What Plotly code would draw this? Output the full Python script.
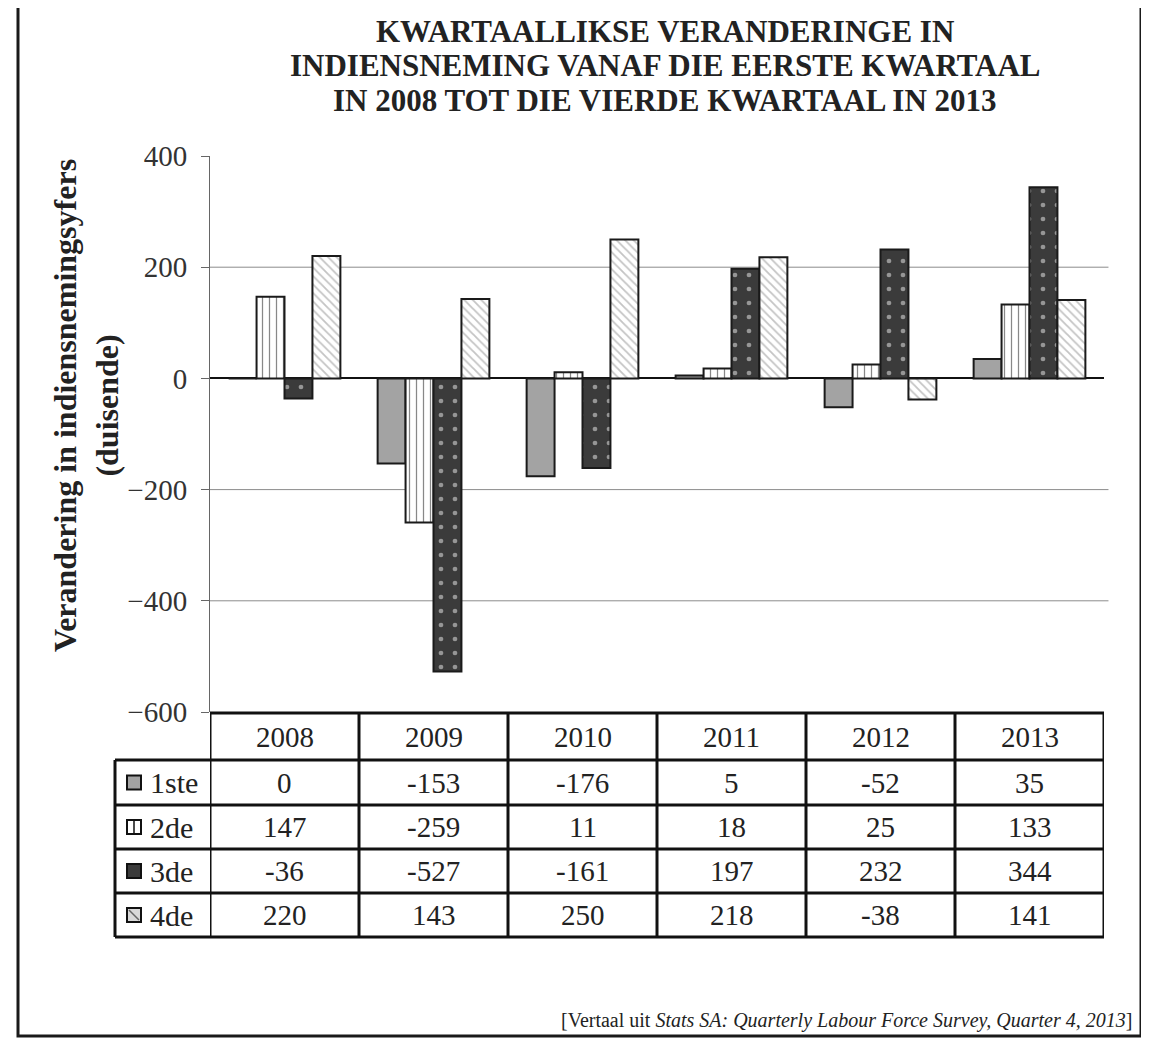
import plotly.graph_objects as go

# ---- data ----
years = ["2008", "2009", "2010", "2011", "2012", "2013"]
quarters = ["1ste", "2de", "3de", "4de"]
q1 = [0, -153, -176, 5, -52, 35]
q2 = [147, -259, 11, 18, 25, 133]
q3 = [-36, -527, -161, 197, 232, 344]
q4 = [220, 143, 250, 218, -38, 141]
series = [q1, q2, q3, q4]
y_ticks = [-600, -400, -200, 0, 200, 400]
grid_vals = [-400, -200, 200]

title_lines = ["KWARTAALLIKSE VERANDERINGE IN",
               "INDIENSNEMING VANAF DIE EERSTE KWARTAAL",
               "IN 2008 TOT DIE VIERDE KWARTAAL IN 2013"]
y_title = "Verandering in indiensnemingsyfers<br>(duisende)"

# ---- layout geometry (pixels, in page coordinates; page body has an 8px margin) ----
OFF = 8
W_FIG, H_FIG = 1149 - OFF, 1039 - OFF
L, R_EDGE, T, B_EDGE = 210, 1104, 156, 712
PW, PH = R_EDGE - L, B_EDGE - T
SERIF = "Liberation Serif, Times New Roman, serif"


def px(X):
    return (X - L) / PW


def py(Y):
    return (B_EDGE - Y) / PH


styles = [
    dict(color="#a3a3a3", pattern=None),
    dict(color="white", pattern=dict(shape="|", fgcolor="#111", size=7, solidity=0.18, fillmode="overlay")),
    dict(color="#3b3b3b", pattern=dict(shape=".", fgcolor="#f2f2f2", size=14, solidity=0.09, fillmode="overlay")),
    dict(color="white", pattern=dict(shape="\\", fgcolor="#8a8a8a", size=6, solidity=0.3, fillmode="overlay")),
]

fig = go.Figure()
for name, vals, st in zip(quarters, series, styles):
    marker = dict(color=st["color"], line=dict(color="#1a1a1a", width=2))
    if st["pattern"]:
        marker["pattern"] = st["pattern"]
    fig.add_trace(go.Bar(x=years, y=vals, name=name, marker=marker, showlegend=False))

shapes = []
# gridlines
for g in grid_vals:
    shapes.append(dict(type="line", xref="paper", yref="y", x0=0, x1=1.005, y0=g, y1=g,
                       line=dict(color="#8c8c8c", width=1), layer="below"))

# table geometry
row_edges = [713, 760, 805, 849, 893, 937]
LEG_L = 115
TW = 3
for i, Y in enumerate(row_edges):
    x0 = px(L) if i == 0 else px(LEG_L)
    shapes.append(dict(type="line", xref="paper", yref="paper", x0=x0, x1=1,
                       y0=py(Y), y1=py(Y), line=dict(color="#111", width=TW)))
for k in range(len(years) + 1):
    shapes.append(dict(type="line", xref="x", yref="paper", x0=k - 0.5, x1=k - 0.5,
                       y0=py(row_edges[0]), y1=py(row_edges[-1]), line=dict(color="#111", width=TW)))
shapes.append(dict(type="line", xref="paper", yref="paper", x0=px(LEG_L), x1=px(LEG_L),
                   y0=py(row_edges[1]), y1=py(row_edges[-1]), line=dict(color="#111", width=TW)))

annotations = []
cell_font = dict(family=SERIF, size=29, color="#222")
for i, yr in enumerate(years):
    annotations.append(dict(x=i, xref="x", y=py((row_edges[0] + row_edges[1]) / 2), yref="paper",
                            xanchor="center", yanchor="middle",
                            text=yr, showarrow=False, font=cell_font))
icon_fill = ["#a3a3a3", "white", "#3b3b3b", "#d8d8d8"]
for r, (name, vals) in enumerate(zip(quarters, series)):
    yc = (row_edges[r + 1] + row_edges[r + 2]) / 2
    for i, v in enumerate(vals):
        annotations.append(dict(x=i, xref="x", y=py(yc), yref="paper", text=str(v), showarrow=False,
                                xanchor="center", yanchor="middle", font=cell_font))
    annotations.append(dict(x=px(148), xref="paper", y=py(yc), yref="paper", text=name, showarrow=False,
                            xanchor="left", yanchor="middle", font=dict(family=SERIF, size=30, color="#222")))
    ix0, ix1 = 127, 141
    iy0, iy1 = yc - 7, yc + 7
    shapes.append(dict(type="rect", xref="paper", yref="paper", x0=px(ix0), x1=px(ix1), y0=py(iy0), y1=py(iy1),
                       fillcolor=icon_fill[r], line=dict(color="#111", width=2)))
    if r == 1:
        shapes.append(dict(type="line", xref="paper", yref="paper", x0=px(134), x1=px(134), y0=py(iy0), y1=py(iy1),
                           line=dict(color="#111", width=1.5)))
    if r == 3:
        shapes.append(dict(type="line", xref="paper", yref="paper", x0=px(ix0 + 2), x1=px(ix1 - 2),
                           y0=py(iy0 + 2), y1=py(iy1 - 2), line=dict(color="#666", width=1.5)))

# outer frame
shapes.append(dict(type="rect", xref="paper", yref="paper", x0=px(18), x1=px(1141), y0=py(1036), y1=py(-20),
                   line=dict(color="#1a1a1a", width=3), fillcolor="rgba(0,0,0,0)"))

# title, one annotation per line
for line, yc in zip(title_lines, [31, 66, 101]):
    annotations.append(dict(x=px(665), xref="paper", y=py(yc), yref="paper", text="<b>" + line + "</b>",
                            showarrow=False, align="center", xanchor="center", yanchor="middle",
                            font=dict(family=SERIF, size=31, color="#222")))
# y-axis title
annotations.append(dict(x=px(86), xref="paper", y=py(406), yref="paper", text="<b>" + y_title + "</b>",
                        showarrow=False, textangle=-90, align="center", xanchor="center", yanchor="middle",
                        font=dict(family=SERIF, size=32, color="#222")))
# source
annotations.append(dict(x=px(1134), xref="paper", y=py(1020), yref="paper", xanchor="right", yanchor="middle",
                        text="[Vertaal uit <i>Stats SA: Quarterly Labour Force Survey, Quarter 4, 2013</i>]",
                        showarrow=False, font=dict(family=SERIF, size=20, color="#222")))

fig.update_layout(
    width=W_FIG, height=H_FIG,
    margin=dict(l=L - OFF, r=W_FIG - (R_EDGE - OFF), t=T - OFF, b=H_FIG - (B_EDGE - OFF), pad=0),
    paper_bgcolor="white", plot_bgcolor="white",
    barmode="group", bargap=0.25, bargroupgap=0,
    shapes=shapes, annotations=annotations,
    font=dict(family=SERIF, color="#222"),
)
fig.update_xaxes(showticklabels=False, showgrid=False, showline=False, ticks="", range=[-0.5, 5.5])
fig.update_yaxes(range=[-600, 400], tickvals=y_ticks,
                 ticktext=[("\u2212" + str(abs(v))) if v < 0 else str(v) for v in y_ticks],
                 showgrid=False, zeroline=True, zerolinecolor="#111", zerolinewidth=2,
                 showline=True, linecolor="#666", linewidth=1, ticks="outside", ticklen=8,
                 tickcolor="#666", tickfont=dict(family=SERIF, size=29, color="#333"), ticklabelstandoff=8)

fig.write_html("out.html")
